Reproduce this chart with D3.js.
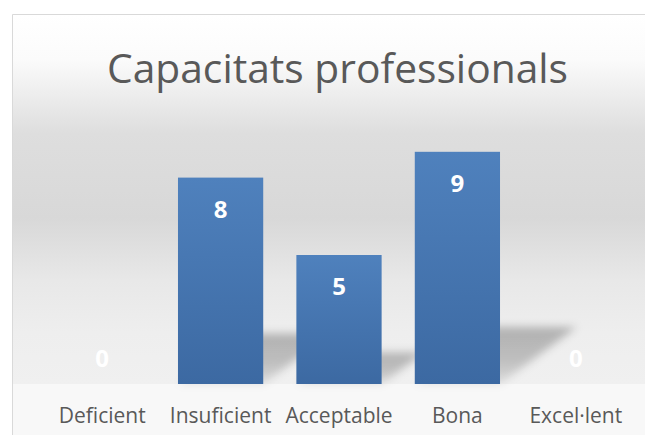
<!DOCTYPE html>
<html>
<head>
<meta charset="utf-8">
<script src="https://cdn.jsdelivr.net/npm/d3@7"></script>
<style>
  body { margin: 0; background: #fff; }
  svg { display: block; }
</style>
</head>
<body>
<div id="chart"></div>
<script>
// chart data
const categories = ["Deficient", "Insuficient", "Acceptable", "Bona", "Excel·lent"];
const values = [0, 8, 5, 9, 0];
const title = "Capacitats professionals";

const width = 645, height = 435;
const margins = { top: 126, bottom: 51, left: 43, right: 10 };
const baseY = height - margins.bottom;

const svg = d3.select("#chart")
  .append("svg")
  .attr("width", width)
  .attr("height", height);

const defs = svg.append("defs");

// background gradient: white at top, grey middle, lighter near floor
const bg = defs.append("linearGradient")
  .attr("id", "bg").attr("x1", 0).attr("y1", 0).attr("x2", 0).attr("y2", 1);
[[0, "#ffffff"], [0.12, "#fbfbfb"], [0.32, "#dedede"], [0.55, "#d8d8d8"], [0.72, "#e8e8e8"], [0.86, "#eeeeee"], [1, "#f0f0f0"]]
  .forEach(([o, c]) => bg.append("stop").attr("offset", o).attr("stop-color", c));

const barGrad = defs.append("linearGradient")
  .attr("id", "bar").attr("x1", 0).attr("y1", 0).attr("x2", 0).attr("y2", 1);
barGrad.append("stop").attr("offset", 0).attr("stop-color", "#4f81bd");
barGrad.append("stop").attr("offset", 1).attr("stop-color", "#3c69a2");

const shGrad = defs.append("linearGradient")
  .attr("id", "sh").attr("x1", 0).attr("y1", 0).attr("x2", 0).attr("y2", 1);
shGrad.append("stop").attr("offset", 0).attr("stop-color", "#000").attr("stop-opacity", 0.26);
shGrad.append("stop").attr("offset", 0.6).attr("stop-color", "#000").attr("stop-opacity", 0.2);
shGrad.append("stop").attr("offset", 1).attr("stop-color", "#000").attr("stop-opacity", 0.08);

defs.append("filter").attr("id", "blur")
  .attr("x", "-30%").attr("y", "-30%").attr("width", "160%").attr("height", "160%")
  .append("feGaussianBlur").attr("stdDeviation", 4);

// chart area
svg.append("rect")
  .attr("x", 13).attr("y", 15)
  .attr("width", width).attr("height", baseY - 15)
  .attr("fill", "url(#bg)");

svg.append("rect")
  .attr("x", 13).attr("y", baseY)
  .attr("width", width).attr("height", height - baseY)
  .attr("fill", "#f8f8f8");

svg.append("path")
  .attr("d", `M12.5,${height}V14.5H${width}`)
  .attr("fill", "none")
  .attr("stroke", "#d9d9d9");

const xScale = d3.scaleBand()
  .domain(categories)
  .range([margins.left, width - margins.right])
  .paddingInner(0.28)
  .paddingOuter(0.14);

const yScale = d3.scaleLinear()
  .domain([0, 10])
  .range([baseY, margins.top]);

// perspective shadows behind bars
svg.append("g")
  .attr("filter", "url(#blur)")
  .selectAll("path")
  .data(values.map((v, i) => ({ v, c: categories[i] })))
  .join("path")
  .attr("fill", "url(#sh)")
  .attr("d", d => {
    const x0 = xScale(d.c), x1 = x0 + xScale.bandwidth();
    const h = baseY - yScale(d.v);
    const dy = h * 0.245, dx = h * 0.33;
    return `M${x0},${baseY}L${x1},${baseY}L${x1 + dx},${baseY - dy}L${x0 + dx},${baseY - dy}Z`;
  });

svg.append("g")
  .selectAll("rect")
  .data(values)
  .join("rect")
  .attr("x", (d, i) => xScale(categories[i]))
  .attr("y", d => yScale(d))
  .attr("width", xScale.bandwidth())
  .attr("height", d => baseY - yScale(d))
  .attr("fill", "url(#bar)");

// data labels
svg.append("g")
  .selectAll("text")
  .data(values)
  .join("text")
  .attr("x", (d, i) => xScale(categories[i]) + xScale.bandwidth() / 2)
  .attr("y", d => Math.min(yScale(d) + 40, baseY - 17))
  .attr("text-anchor", "middle")
  .attr("font-family", "'Open Sans', sans-serif")
  .attr("font-weight", "bold")
  .attr("font-size", 24)
  .attr("fill", "#ffffff")
  .text(d => d);

// x axis labels
const xAxis = d3.axisBottom(xScale).tickSize(0).tickPadding(0);
const gx = svg.append("g")
  .attr("transform", `translate(0,${baseY})`)
  .call(xAxis);
gx.select(".domain").remove();
gx.selectAll("text")
  .attr("y", 39)
  .attr("dy", null)
  .attr("font-family", "'Open Sans', sans-serif")
  .attr("font-size", 21)
  .attr("fill", "#595959");

svg.append("text")
  .attr("x", 337.5)
  .attr("y", 83)
  .attr("text-anchor", "middle")
  .attr("font-family", "'Open Sans', sans-serif")
  .attr("font-size", 41)
  .attr("textLength", 461)
  .attr("lengthAdjust", "spacingAndGlyphs")
  .attr("fill", "#595959")
  .text(title);
</script>
</body>
</html>
